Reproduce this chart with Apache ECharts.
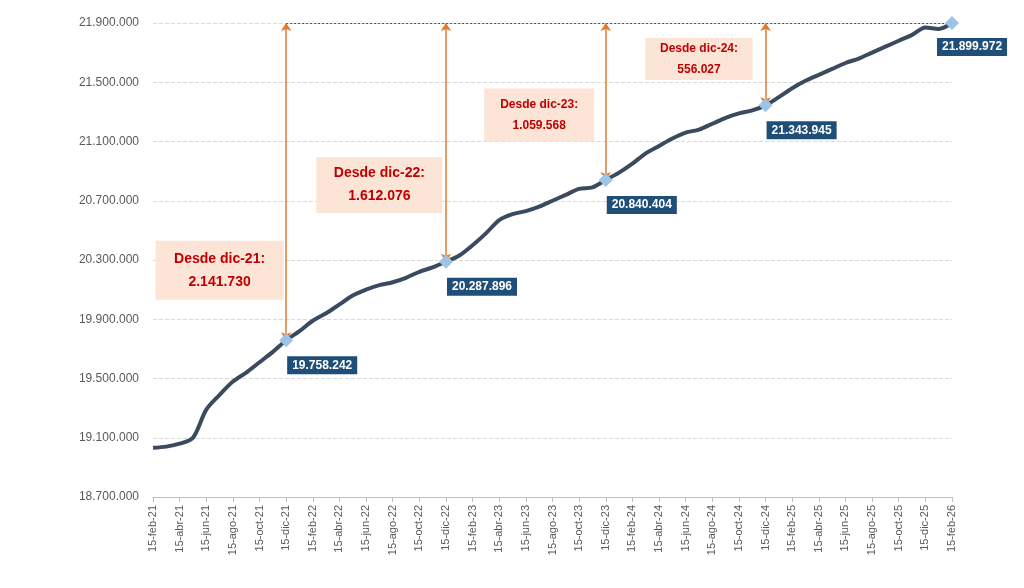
<!DOCTYPE html>
<html>
<head>
<meta charset="utf-8">
<script src="https://cdn.jsdelivr.net/npm/echarts@6/dist/echarts.min.js"></script>
<style>html,body{margin:0;padding:0;background:#fff}</style>
</head>
<body>
<div id="main" style="width:1024px;height:588px;"></div>
<script>
var mesesCorto = ['ene','feb','mar','abr','may','jun','jul','ago','sep','oct','nov','dic'];
var fechas = [];
for (var y = 21; y <= 26; y++) {
    for (var m = 0; m < 12; m++) {
        if ((y === 21 && m < 1) || (y === 26 && m > 1)) continue;
        fechas.push('15-' + mesesCorto[m] + '-' + y);
    }
}
// afiliados
var afiliados = [
    19032000, 19040000, 19060000, 19100000, 19290000, 19390000, 19480000, 19540000, 19610000, 19680000,
    19758242, 19820000, 19890000, 19940000, 20000000, 20060000, 20100000, 20130000, 20150000, 20180000,
    20220000, 20250000, 20287896, 20330000, 20400000, 20480000, 20570000, 20610000, 20630000, 20660000,
    20700000, 20740000, 20780000, 20790000, 20840404, 20890000, 20950000, 21020000, 21070000, 21120000,
    21160000, 21180000, 21220000, 21260000, 21290000, 21310000, 21343945, 21400000, 21460000, 21510000,
    21550000, 21590000, 21630000, 21660000, 21700000, 21740000, 21780000, 21820000, 21870000, 21860000,
    21899972
];
var hitos = [10, 22, 34, 46];
var ultimo = afiliados.length - 1;
var textosDesde = ['Desde dic-21:', 'Desde dic-22:', 'Desde dic-23:', 'Desde dic-24:'];
// posicion del centro de los cuadros de texto (indice, valor)
var cajas = [[5, 20230000], [17, 20806000], [29, 21279000], [41, 21657000]];
var tamCaja = [[128, 59, 14], [126, 56, 14], [110, 53, 12], [107, 42, 12]];

function fmt(v) { return Math.round(v).toString().replace(/\B(?=(\d{3})+(?!\d))/g, '.'); }

var puntos = hitos.concat([ultimo]).map(function (i, k) {
    return {
        value: [i, afiliados[i]],
        label: { position: k === 4 ? [-8, 22] : [8, 23] }
    };
});

var flechas = hitos.map(function (i) {
    return [{ coord: [i, afiliados[ultimo]] }, { coord: [i, afiliados[i]] }];
});

var notas = cajas.map(function (c, k) {
    var dif = afiliados[ultimo] - afiliados[hitos[k]];
    return {
        value: c,
        label: {
            formatter: textosDesde[k] + '\n' + fmt(dif),
            width: tamCaja[k][0] - 16, height: tamCaja[k][1] - 12,
            fontSize: tamCaja[k][2], lineHeight: tamCaja[k][2] + 9
        }
    };
});

var chart = echarts.init(document.getElementById('main'));
chart.setOption({
    animation: false,
    grid: { left: 153, right: 72, top: 23, bottom: 91 },
    xAxis: {
        type: 'category', data: fechas, boundaryGap: false,
        axisLine: { lineStyle: { color: '#bfbfbf' } },
        axisTick: { interval: 1, lineStyle: { color: '#bfbfbf' } },
        axisLabel: { interval: 1, rotate: 90, color: '#595959', fontSize: 11, fontFamily: 'Liberation Sans' }
    },
    yAxis: {
        type: 'value', min: 18700000, max: 21900000, interval: 400000,
        axisLabel: { formatter: fmt, color: '#595959', fontSize: 12, fontFamily: 'Liberation Sans', margin: 14 },
        splitLine: { lineStyle: { type: 'dashed', color: '#d9d9d9' } }
    },
    series: [
        {
            type: 'line', data: afiliados, symbol: 'none', smooth: 0.3,
            lineStyle: { color: '#3b4a5e', width: 4 },
            markLine: {
                silent: true, symbol: ['none', 'none'], label: { show: false },
                lineStyle: { color: '#ff0000', type: [2, 2], width: 1 },
                data: [[{ coord: [hitos[0], afiliados[ultimo]] }, { coord: [ultimo, afiliados[ultimo]] }]]
            }
        },
        {
            type: 'line', data: [], markLine: {
                silent: true, symbol: ['arrow', 'arrow'], symbolSize: 8, label: { show: false },
                lineStyle: { color: '#e07a2e', type: 'solid', width: 1.5 },
                data: flechas
            }
        },
        {
            type: 'scatter', data: notas, symbolSize: 0, z: 1,
            itemStyle: { opacity: 1 },
            label: {
                show: true, position: 'inside', align: 'center', verticalAlign: 'middle',
                textAlign: 'right',
                backgroundColor: '#fce4d6', color: '#c00000', fontWeight: 'bold',
                fontFamily: 'Liberation Sans', padding: [6, 8]
            }
        },
        {
            type: 'scatter', data: puntos, symbol: 'diamond', symbolSize: 14, z: 5,
            itemStyle: { color: '#9dc3e6', opacity: 1 },
            label: {
                show: true, formatter: function (p) { return fmt(p.value[1]); },
                backgroundColor: '#1f4e79', color: '#fff', fontWeight: 'bold', fontSize: 12,
                fontFamily: 'Liberation Sans', padding: [3, 5]
            }
        }
    ]
});
</script>
</body>
</html>
